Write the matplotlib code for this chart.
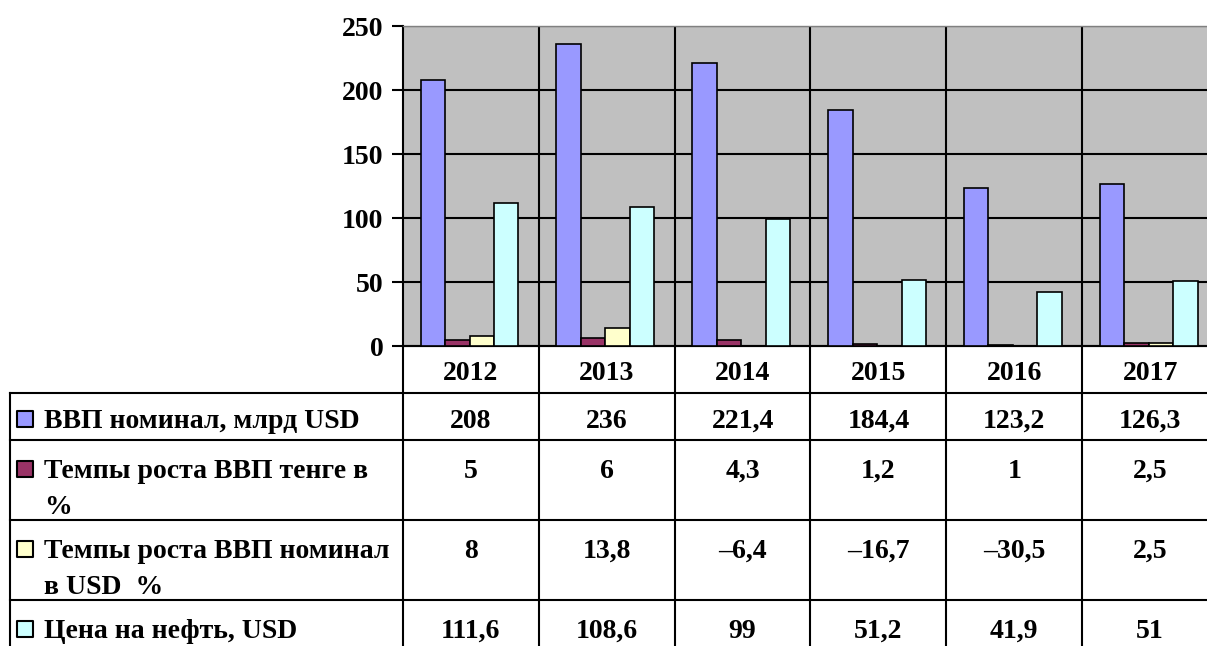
import matplotlib
matplotlib.use("Agg")
import matplotlib.pyplot as plt
import numpy as np

years = ["2012", "2013", "2014", "2015", "2016", "2017"]
series_names = ["ВВП номинал, млрд USD",
                "Темпы роста ВВП тенге в\n%",
                "Темпы роста ВВП номинал\nв USD  %",
                "Цена на нефть, USD"]
gdp_nominal = [208, 236, 221.4, 184.4, 123.2, 126.3]
growth_tenge = [5, 6, 4.3, 1.2, 1, 2.5]
growth_usd = [8, 13.8, -6.4, -16.7, -30.5, 2.5]
oil_price = [111.6, 108.6, 99, 51.2, 41.9, 51]
yticks = [0, 50, 100, 150, 200, 250]

series = [gdp_nominal, growth_tenge, growth_usd, oil_price]
colors = ["#9999FF", "#993366", "#FFFFCC", "#CCFFFF"]

plt.rcParams['font.family'] = ['Liberation Serif', 'DejaVu Serif']
plt.rcParams['font.weight'] = 'bold'
FS = 20

W, H = 1207, 646
fig = plt.figure(figsize=(W / 100, H / 100), dpi=100)

left_px, right_px, top_px, bot_px = 403, 1218, 26, 346
ax = fig.add_axes([left_px / W, 1 - bot_px / H, (right_px - left_px) / W, (bot_px - top_px) / H])
ax.set_facecolor("#C0C0C0")
x = np.arange(len(years))
bw = 0.18
for i, (vals, c) in enumerate(zip(series, colors)):
    ax.bar(x + (i - 1.5) * bw - 0.01, vals, width=bw, color=c, edgecolor="black", linewidth=1.2, zorder=3)
ax.set_xlim(-0.5, len(years) - 0.5)
ax.set_ylim(0, 250)
ax.set_yticks(yticks)
ax.set_yticklabels([str(t) for t in yticks], fontsize=FS, fontweight='bold')
ax.tick_params(axis='y', direction='out', length=8, width=1.5, pad=6)
ax.tick_params(axis='x', bottom=False, labelbottom=False)
ax.yaxis.grid(True, color="black", linewidth=1.5, zorder=1)
for b in np.arange(0.5, len(years) - 0.5, 1):
    ax.axvline(b, color="black", linewidth=1.5, zorder=1)
for s in ["top", "right"]:
    ax.spines[s].set_color("#808080")
    ax.spines[s].set_linewidth(1)
ax.spines["left"].set_linewidth(1.5)
ax.spines["bottom"].set_linewidth(1.5)

# table overlay in pixel coordinates
axt = fig.add_axes([0, 0, 1, 1], zorder=-1)
axt.set_xlim(0, W)
axt.set_ylim(H, 0)
axt.axis("off")
axt.patch.set_alpha(0)

def xpix(v):
    return ax.transData.transform((v, 0))[0]

bounds = [xpix(b) for b in np.arange(-0.5, len(years), 1)]
centers = [xpix(c) for c in x]
row_lines = [346, 393, 440, 520, 600]
row_text_y = [373, 421, 471, 551, 631]
label_left = 10
lw = 1.5
# horizontal lines
axt.plot([bounds[0], W + 20], [346, 346], color="black", lw=lw)
for yl in row_lines[1:]:
    axt.plot([label_left, W + 20], [yl, yl], color="black", lw=lw)
# vertical lines
axt.plot([bounds[0], bounds[0]], [346, H + 5], color="black", lw=lw)
for b in bounds[1:]:
    axt.plot([b, b], [346, H + 5], color="black", lw=lw)
axt.plot([label_left, label_left], [393, H + 5], color="black", lw=lw)

# header years
for cx, yr in zip(centers, years):
    axt.text(cx, row_text_y[0], yr, ha="center", va="center", fontsize=FS, fontweight="bold")

def fmt(v):
    s = f"{v:g}".replace(".", ",")
    return s.replace("-", "–")

for r, (name, vals, c) in enumerate(zip(series_names, series, colors)):
    ty = row_text_y[r + 1]
    axt.scatter([25], [ty - 2], marker="s", s=120, color=c, edgecolor="black", linewidth=1.5, zorder=3)
    lines = name.split("\n")
    for k, ln in enumerate(lines):
        axt.text(44, ty + k * 37, ln, ha="left", va="center", fontsize=FS, fontweight="bold")
    for cx, v in zip(centers, vals):
        axt.text(cx, ty, fmt(v), ha="center", va="center", fontsize=FS, fontweight="bold")

fig.savefig("out.png", dpi=100)
